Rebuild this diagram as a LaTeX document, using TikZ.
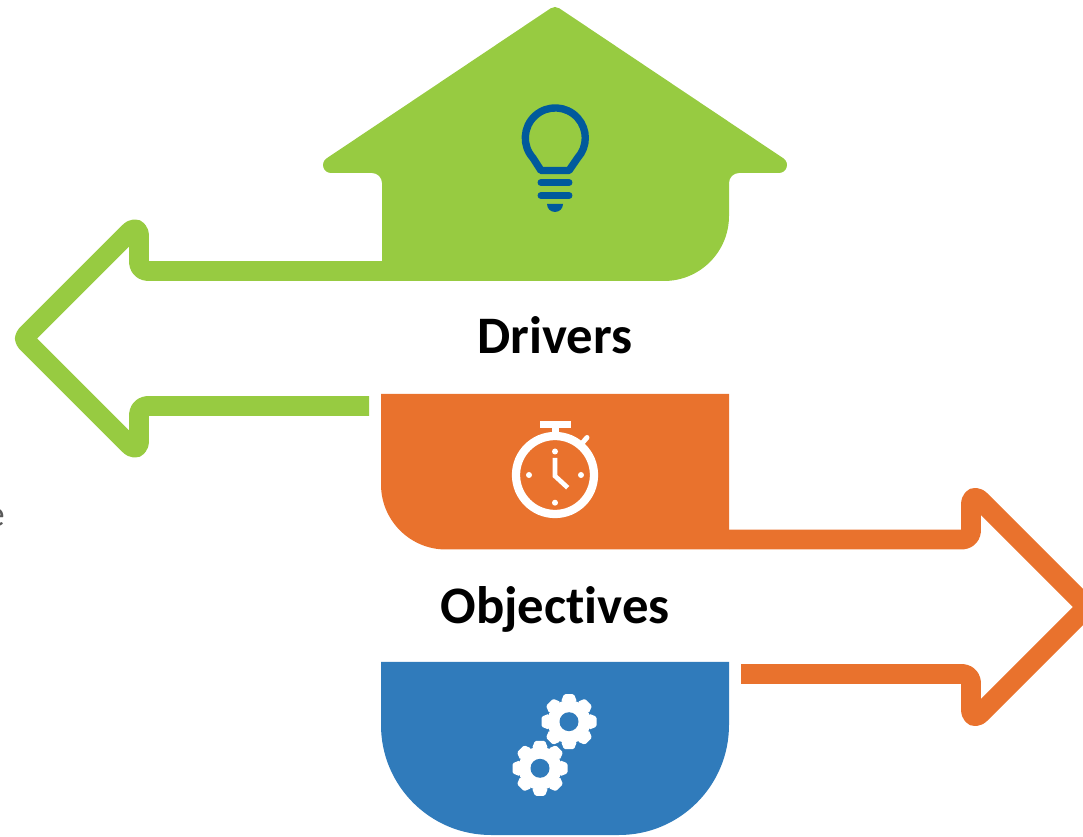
\documentclass[tikz,border=0pt]{standalone}
\usepackage{fontspec}
\setmainfont[Ligatures=NoCommon]{Carlito}
\definecolor{driversgreen}{RGB}{151,203,65}
\definecolor{timerorange}{RGB}{233,114,45}
\definecolor{gearblue}{RGB}{48,123,187}
\definecolor{bulbblue}{RGB}{0,90,156}
\tikzset{
	outlinearrow/.style={line width=11.34pt,line join=round,rounded corners=5pt},
	bigtitle/.style={anchor=base,font=\fontsize{30pt}{34pt}\selectfont\bfseries,text=black,inner sep=0pt}
}
\begin{document}
\begin{tikzpicture}[x=0.02cm,y=0.02cm]
	\useasboundingbox (0,0) rectangle (1083,836);
	\draw[driversgreen,outlinearrow] (382,565)-- (139,565) [rounded corners=8pt] -- (139,613.5) [rounded corners=2.5pt] -- (23,497.5) [rounded corners=8pt] -- (139,381.5) [rounded corners=5pt] -- (139,430)-- (369,430);
	\fill[driversgreen] (372,663) arc (90:0:10)-- (382,555)-- (664,555) arc (270:360:65)-- (729,653) arc (180:90:10)-- cycle;
	\draw[driversgreen,fill=driversgreen,line width=9.07pt,line join=round] (555,821)-- (779,671)-- (331,671)-- cycle;
	\draw[bulbblue,line width=4.2pt,line join=round] (533,678) arc (222:-42:30)-- (569,665.5)-- (541,665.5)-- cycle;
	\draw[bulbblue,line width=3.97pt,line cap=round] (541,653.5)-- (569,653.5);
	\draw[bulbblue,line width=3.97pt,line cap=round] (541,640.5)-- (569,640.5);
	\fill[bulbblue] (547,632) arc (180:360:8)-- cycle;
	\draw[timerorange,outlinearrow] (729,296.5)-- (971,296.5) [rounded corners=8pt] -- (971,345) [rounded corners=2.5pt] -- (1087,229) [rounded corners=8pt] -- (971,113) [rounded corners=5pt] -- (971,162)-- (741,162);
	\fill[timerorange] (381,442)-- (729,442)-- (729,286.5)-- (446,286.5) arc (270:180:65)-- cycle;
	\draw[white,line width=4.7pt] (555,361) circle (39);
	\fill[white] (540,415.3) rectangle (571,407.7);
	\fill[white] (551.7,408) rectangle (559,398);
	\draw[white,line width=2.83pt,line cap=round] (581.5,392)-- (587,398.5);
	\draw[white,line width=2.66pt] (555,378)-- (555,360)-- (567.7,348.3);
	\foreach \dotx/\doty in {555/384.5,529/361,581/361,555/333.3}
	\fill[white] (\dotx,\doty) circle (3);
	\fill[gearblue] (381,174)-- (729,174)-- (729,111) arc (0:-90:110)-- (491,1) arc (270:180:110)-- cycle;
	\foreach \gearx/\geary in {569/114.3,540/67.7}{
		\fill[white] (\gearx,\geary) circle (21.5);
		\foreach \ang in {0,45,...,315}
		\fill[white,shift={(\gearx,\geary)},rotate=\ang,rounded corners=0.8pt] (20,-8)-- (27.5,-5)-- (27.5,5)-- (20,8)-- cycle;
		\fill[gearblue] (\gearx,\geary) circle (9.5);
	}
	\node[bigtitle] (drivers) at (555,482) {Drivers};
	\node[bigtitle] (objectives) at (555,212) {Objectives};
	\node[anchor=base east,inner sep=0pt,text=black!65,font=\fontsize{21pt}{24pt}\selectfont] (cutoff) at (5,309) {e};
\end{tikzpicture}
\end{document}
